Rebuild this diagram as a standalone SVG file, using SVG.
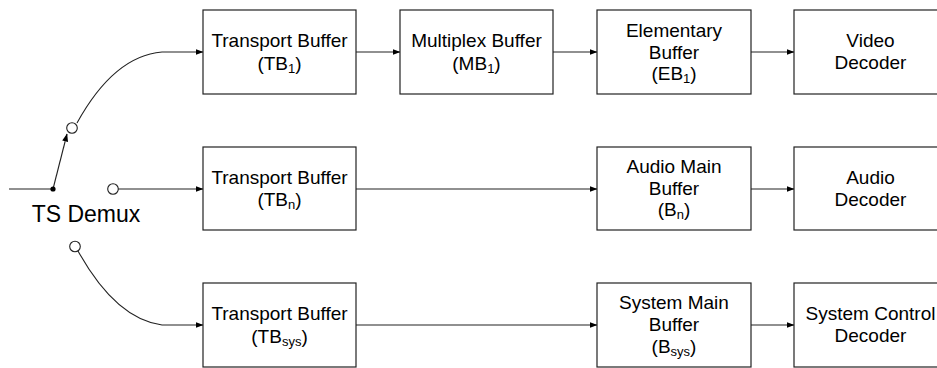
<svg xmlns="http://www.w3.org/2000/svg" width="937" height="368" viewBox="0 0 937 368">
<defs>
<marker id="ah" markerWidth="8" markerHeight="6" refX="7.5" refY="3" orient="auto" markerUnits="userSpaceOnUse">
<path d="M0,0 L8,3 L0,6 Z" fill="#000"/>
</marker>
<style>
.box{fill:#fff;stroke:#222;stroke-width:1.2}
.ln{fill:none;stroke:#222;stroke-width:1.1}
.t{font-family:"Liberation Sans",Arial,sans-serif;font-size:19px;fill:#000;text-anchor:middle}
.sub{font-size:13px}
.sw{fill:#fff;stroke:#222;stroke-width:1.1}
</style>
</defs>
<rect width="937" height="368" fill="#fff"/>
<g id="connectors">
<line class="ln" x1="9" y1="189" x2="53" y2="189"/>
<line class="ln" x1="53" y1="189" x2="67" y2="134" marker-end="url(#ah)"/>
<path class="ln" d="M77,123 C98,85 125,55 162,52 L203,52" marker-end="url(#ah)"/>
<line class="ln" x1="118" y1="189" x2="203" y2="189" marker-end="url(#ah)"/>
<path class="ln" d="M78,251 C98,287 125,320 162,325 L203,325" marker-end="url(#ah)"/>
<line class="ln" x1="356" y1="52" x2="400" y2="52" marker-end="url(#ah)"/>
<line class="ln" x1="553" y1="52" x2="597" y2="52" marker-end="url(#ah)"/>
<line class="ln" x1="751" y1="52" x2="794" y2="52" marker-end="url(#ah)"/>
<line class="ln" x1="356" y1="189" x2="597" y2="189" marker-end="url(#ah)"/>
<line class="ln" x1="751" y1="189" x2="794" y2="189" marker-end="url(#ah)"/>
<line class="ln" x1="356" y1="325" x2="597" y2="325" marker-end="url(#ah)"/>
<line class="ln" x1="751" y1="325" x2="794" y2="325" marker-end="url(#ah)"/>
</g>
<g id="demux">
<circle cx="53" cy="189" r="2.6" fill="#000"/>
<circle class="sw" cx="72" cy="128" r="5.3"/>
<circle class="sw" cx="113" cy="189" r="5.3"/>
<circle class="sw" cx="75" cy="246.5" r="5.3"/>
<text class="t" x="86" y="222" style="font-size:23px">TS Demux</text>
</g>
<g id="tb1">
<rect class="box" x="203" y="10" width="153" height="84"/>
<text class="t" x="279.5" y="47">Transport Buffer</text>
<text class="t" x="279.5" y="70">(TB<tspan class="sub" dy="3">1</tspan><tspan dy="-3">)</tspan></text>
</g>
<g id="mb1">
<rect class="box" x="400" y="10" width="153" height="84"/>
<text class="t" x="476.5" y="47">Multiplex Buffer</text>
<text class="t" x="476.5" y="70">(MB<tspan class="sub" dy="3">1</tspan><tspan dy="-3">)</tspan></text>
</g>
<g id="eb1">
<rect class="box" x="597" y="10" width="154" height="84"/>
<text class="t" x="674" y="37">Elementary</text>
<text class="t" x="674" y="59">Buffer</text>
<text class="t" x="674" y="80">(EB<tspan class="sub" dy="3">1</tspan><tspan dy="-3">)</tspan></text>
</g>
<g id="video">
<rect class="box" x="794" y="10" width="153" height="84"/>
<text class="t" x="870.5" y="47">Video</text>
<text class="t" x="870.5" y="69">Decoder</text>
</g>
<g id="tbn">
<rect class="box" x="203" y="147" width="153" height="83"/>
<text class="t" x="279.5" y="184">Transport Buffer</text>
<text class="t" x="279.5" y="206">(TB<tspan class="sub" dy="3">n</tspan><tspan dy="-3">)</tspan></text>
</g>
<g id="bn">
<rect class="box" x="597" y="147" width="154" height="83"/>
<text class="t" x="674" y="173">Audio Main</text>
<text class="t" x="674" y="195">Buffer</text>
<text class="t" x="674" y="216">(B<tspan class="sub" dy="3">n</tspan><tspan dy="-3">)</tspan></text>
</g>
<g id="audio">
<rect class="box" x="794" y="147" width="153" height="83"/>
<text class="t" x="870.5" y="184">Audio</text>
<text class="t" x="870.5" y="206">Decoder</text>
</g>
<g id="tbsys">
<rect class="box" x="203" y="283" width="153" height="84"/>
<text class="t" x="279.5" y="320">Transport Buffer</text>
<text class="t" x="279.5" y="343">(TB<tspan class="sub" dy="3">sys</tspan><tspan dy="-3">)</tspan></text>
</g>
<g id="bsys">
<rect class="box" x="597" y="283" width="154" height="84"/>
<text class="t" x="674" y="309">System Main</text>
<text class="t" x="674" y="331">Buffer</text>
<text class="t" x="674" y="353">(B<tspan class="sub" dy="3">sys</tspan><tspan dy="-3">)</tspan></text>
</g>
<g id="sysdec">
<rect class="box" x="794" y="283" width="153" height="84"/>
<text class="t" x="870.5" y="320">System Control</text>
<text class="t" x="870.5" y="342">Decoder</text>
</g>
</svg>
